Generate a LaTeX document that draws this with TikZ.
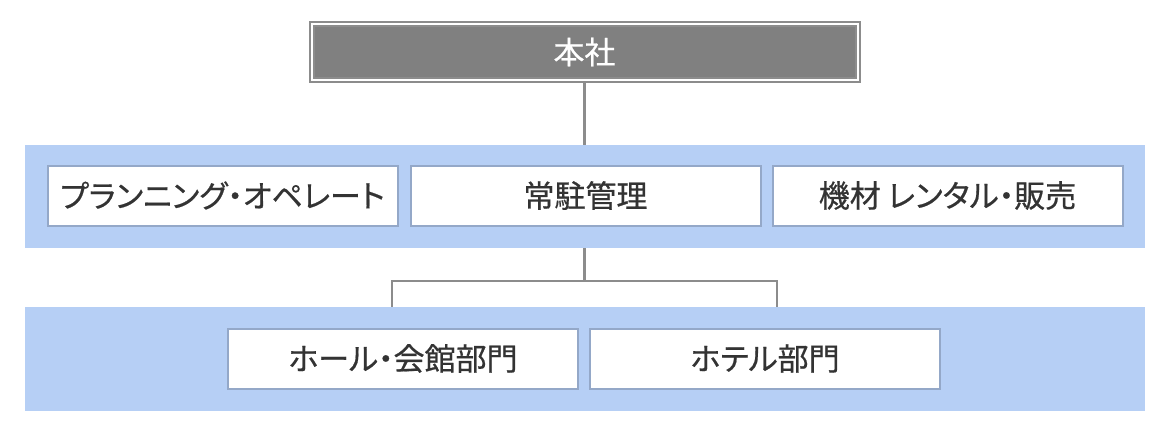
\documentclass[tikz,border=0pt]{standalone}
\usepackage{fontspec}
\setmainfont{Noto Sans CJK JP}[RawFeature=+palt,FakeBold=0.6]
\definecolor{bandc}{HTML}{B6CFF5}
\definecolor{boxline}{HTML}{94A8C8}
\definecolor{headfill}{HTML}{808080}
\definecolor{linec}{HTML}{8C8C8C}
\definecolor{txt}{HTML}{333333}
\begin{document}
\begin{tikzpicture}[x=1pt,y=-1pt,
  band/.style={fill=bandc,draw=none},
  unitbox/.style={draw=boxline,line width=2pt,fill=white,minimum width=350pt,minimum height=60pt,inner sep=0pt,font=\fontsize{31}{34}\selectfont,text=txt},
  headbox/.style={draw=linec,line width=2pt,fill=headfill,double=white,double distance=2pt,minimum width=546pt,minimum height=56pt,inner sep=0pt,font=\fontsize{31}{34}\selectfont,text=white},
  conn/.style={draw=linec,line width=2.5pt}]
\useasboundingbox (0,0) rectangle (1170,432);
\fill[white] (0,0) rectangle (1170,432);
\node[band,minimum width=1120pt,minimum height=103pt,inner sep=0pt] (band1) at (585,196.5) {};
\node[band,minimum width=1120pt,minimum height=104pt,inner sep=0pt] (band2) at (585,359) {};
\node[headbox] (head) at (584.5,52) {本社};
\node[unitbox] (plan) at (222.5,195.5) {プランニング・オペレート};
\node[unitbox] (resi) at (585.5,195.5) {常駐管理};
\node[unitbox] (equip) at (947.5,195.5) {機材 レンタル・販売};
\node[unitbox] (hall) at (403,358.5) {ホール・会館部門};
\node[unitbox] (hotel) at (765,358.5) {ホテル部門};
\coordinate (jl) at (392,281);
\coordinate (jr) at (777,281);
\draw[conn] (head.south) -- (head.south |- band1.north);
\draw[conn] (band1.south -| head.south) -- (head.south |- jl);
\draw[conn] (jl |- band2.north) -- (jl) -- (jr) -- (jr |- band2.north);
\end{tikzpicture}
\end{document}
